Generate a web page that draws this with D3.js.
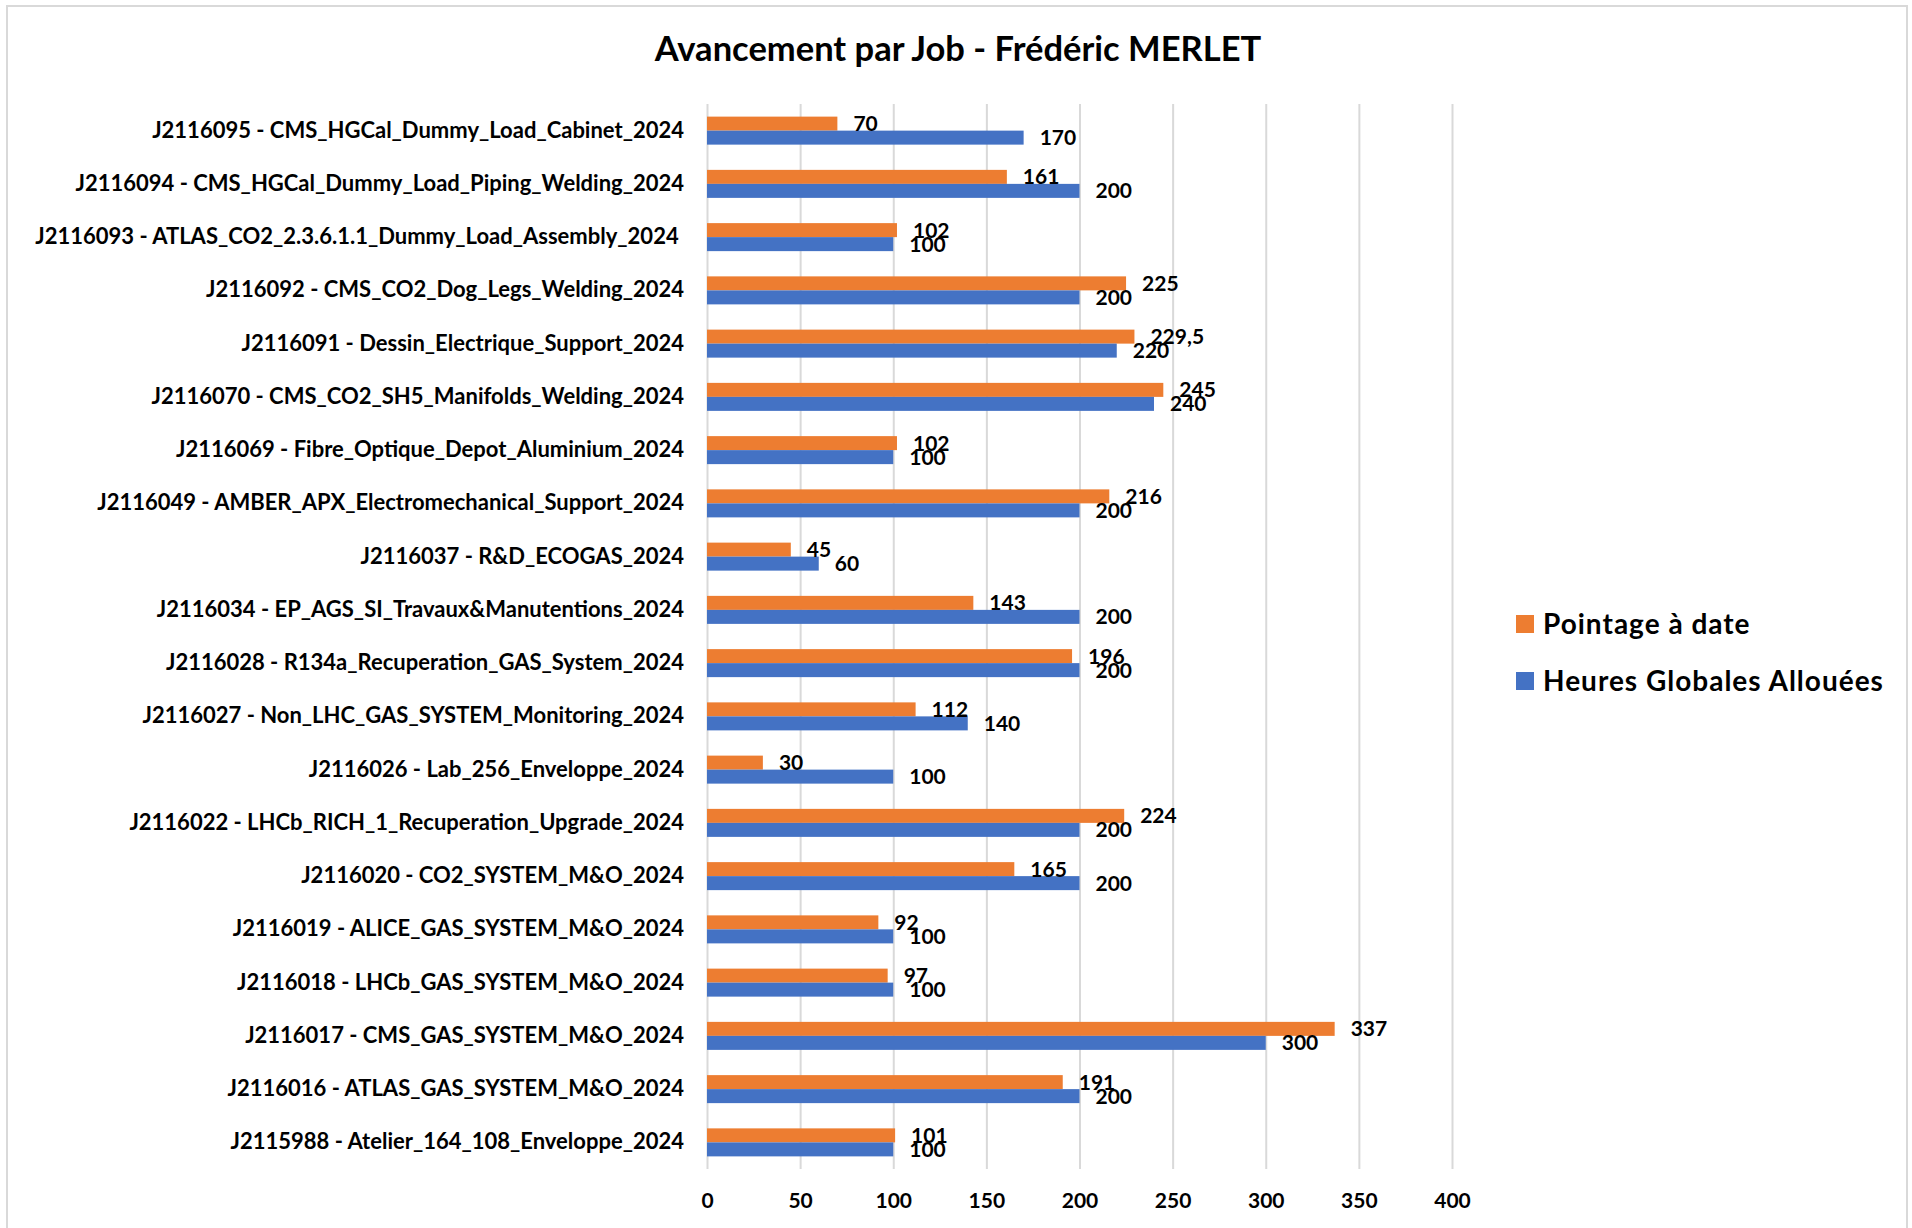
<!DOCTYPE html>
<html>
<head>
<meta charset="utf-8">
<script src="https://cdn.jsdelivr.net/npm/d3@7"></script>
<style>
  body { margin: 0; background: #fff; }
  svg text { font-family: Lato, "Open Sans", sans-serif; font-weight: bold; fill: #000; }
</style>
</head>
<body>
<svg id="chart" width="1912" height="1228"></svg>
<script>
"use strict";

// Jobs, top to bottom as in the chart
const jobs = [
  "J2116095 - CMS_HGCal_Dummy_Load_Cabinet_2024",
  "J2116094 - CMS_HGCal_Dummy_Load_Piping_Welding_2024",
  "J2116093 - ATLAS_CO2_2.3.6.1.1_Dummy_Load_Assembly_2024 ",
  "J2116092 - CMS_CO2_Dog_Legs_Welding_2024",
  "J2116091 - Dessin_Electrique_Support_2024",
  "J2116070 - CMS_CO2_SH5_Manifolds_Welding_2024",
  "J2116069 - Fibre_Optique_Depot_Aluminium_2024",
  "J2116049 - AMBER_APX_Electromechanical_Support_2024",
  "J2116037 - R&D_ECOGAS_2024",
  "J2116034 - EP_AGS_SI_Travaux&Manutentions_2024",
  "J2116028 - R134a_Recuperation_GAS_System_2024",
  "J2116027 - Non_LHC_GAS_SYSTEM_Monitoring_2024",
  "J2116026 - Lab_256_Enveloppe_2024",
  "J2116022 - LHCb_RICH_1_Recuperation_Upgrade_2024",
  "J2116020 - CO2_SYSTEM_M&O_2024",
  "J2116019 - ALICE_GAS_SYSTEM_M&O_2024",
  "J2116018 - LHCb_GAS_SYSTEM_M&O_2024",
  "J2116017 - CMS_GAS_SYSTEM_M&O_2024",
  "J2116016 - ATLAS_GAS_SYSTEM_M&O_2024",
  "J2115988 - Atelier_164_108_Enveloppe_2024"
];

const pointage = [70, 161, 102, 225, 229.5, 245, 102, 216, 45, 143, 196, 112, 30, 224, 165, 92, 97, 337, 191, 101];
const heures   = [170, 200, 100, 200, 220, 240, 100, 200, 60, 200, 200, 140, 100, 200, 200, 100, 100, 300, 200, 100];

const seriesNames = ["Pointage à date", "Heures Globales Allouées"];
const seriesColors = ["#ED7D31", "#4472C4"];
const xTicks = [0, 50, 100, 150, 200, 250, 300, 350, 400];

const svg = d3.select("#chart");
const W = 1912, H = 1228;
const plot = { left: 707, right: 1452, top: 104, bottom: 1169 };

// french decimal comma for 229,5
const fr = d3.formatLocale({ decimal: ",", thousands: " ", grouping: [3], currency: ["", " €"] });
const fmt = fr.format(",~f");

svg.append("rect").attr("width", W).attr("height", H).attr("fill", "#fff");
svg.append("rect")
  .attr("x", 7).attr("y", 6).attr("width", 1900).attr("height", 1240)
  .attr("fill", "none").attr("stroke", "#d9d9d9").attr("stroke-width", 2);

const x = d3.scaleLinear().domain([0, 400]).range([plot.left, plot.right]);
const y = d3.scaleBand().domain(jobs).range([plot.top, plot.bottom])
  .paddingInner(0.474).paddingOuter(0.237);
const ySub = d3.scaleBand().domain([0, 1]).range([0, y.bandwidth()]);

// gridlines + tick labels
const xAxis = svg.append("g")
  .attr("transform", `translate(0,${plot.bottom})`)
  .call(d3.axisBottom(x).tickValues(xTicks)
    .tickSizeInner(-(plot.bottom - plot.top)).tickSizeOuter(0).tickPadding(24));
xAxis.select(".domain").remove();
xAxis.selectAll(".tick line").attr("stroke", "#d9d9d9").attr("stroke-width", 2);
xAxis.selectAll(".tick text").attr("font-size", 21);

const yAxis = svg.append("g")
  .attr("transform", `translate(${plot.left},0)`)
  .call(d3.axisLeft(y).tickSize(0).tickPadding(23));
yAxis.select(".domain").remove();
yAxis.selectAll(".tick text").attr("font-size", 22).style("white-space", "pre");

// bars
const rows = jobs.map((job, i) => ({ job, values: [pointage[i], heures[i]] }));

const groups = svg.append("g").selectAll("g")
  .data(rows).join("g")
  .attr("transform", d => `translate(0,${y(d.job)})`);

groups.selectAll("rect")
  .data(d => d.values.map((v, s) => ({ v, s })))
  .join("rect")
  .attr("x", x(0))
  .attr("y", d => ySub(d.s))
  .attr("width", d => x(d.v) - x(0))
  .attr("height", ySub.bandwidth())
  .attr("fill", d => seriesColors[d.s]);

groups.selectAll("text")
  .data(d => d.values.map((v, s) => ({ v, s })))
  .join("text")
  .attr("x", d => x(d.v) + 16)
  .attr("y", d => ySub(d.s) + ySub.bandwidth() / 2)
  .attr("dy", "0.36em")
  .attr("font-size", 21)
  .text(d => fmt(d.v));

// title
svg.append("text")
  .attr("x", 958).attr("y", 61)
  .attr("text-anchor", "middle")
  .attr("font-size", 34.5)
  .text("Avancement par Job - Frédéric MERLET");

// legend
const legend = svg.append("g").selectAll("g")
  .data(seriesNames).join("g")
  .attr("transform", (d, i) => `translate(1516,${615 + i * 57})`);
legend.append("rect").attr("width", 18).attr("height", 18).attr("fill", (d, i) => seriesColors[i]);
legend.append("text").attr("x", 27).attr("y", 19).attr("font-size", 28)
  .attr("letter-spacing", 1).text(d => d);
</script>
</body>
</html>
